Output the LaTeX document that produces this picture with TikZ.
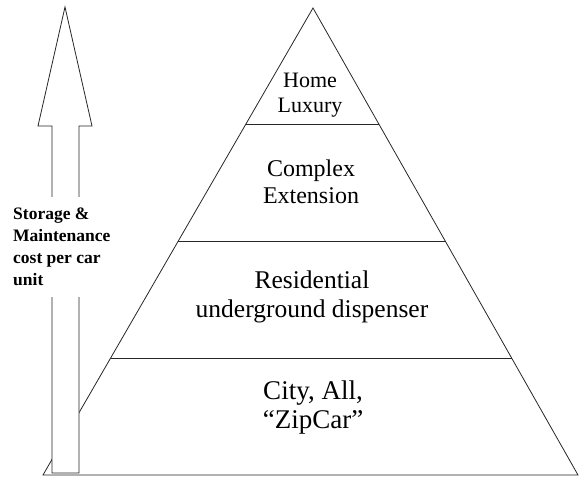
\documentclass[tikz,border=0pt]{standalone}
\usepackage{fontspec}
\setmainfont{Liberation Serif}
\usetikzlibrary{calc}
\tikzset{
	pyr/.style={draw=black!85,line width=0.8pt},
	level/.style={align=center,inner sep=0pt}
}

\begin{document}
\begin{tikzpicture}[x=1pt,y=-1pt]
        \useasboundingbox (0,0) rectangle (579,478);
        \coordinate (apex) at (313, 8);
        \coordinate (base_L) at (43, 475);
        \coordinate (base_R) at (578, 475);
        \coordinate (lvl_1_L) at ($(apex)!0.25!(base_L)$);
        \coordinate (lvl_1_R) at ($(apex)!0.25!(base_R)$);
        \coordinate (lvl_2_L) at ($(apex)!0.5!(base_L)$);
        \coordinate (lvl_2_R) at ($(apex)!0.5!(base_R)$);
        \coordinate (lvl_3_L) at ($(apex)!0.75!(base_L)$);
        \coordinate (lvl_3_R) at ($(apex)!0.75!(base_R)$);
        \draw[pyr] (apex) -- (base_L) -- (base_R) -- cycle;
        \draw[pyr] (lvl_1_L) -- (lvl_1_R);
        \draw[pyr] (lvl_2_L) -- (lvl_2_R);
        \draw[pyr] (lvl_3_L) -- (lvl_3_R);
        \node[level,font=\fontsize{22}{25}\selectfont] (home) at (310, 95) {Home\\Luxury};
        \node[level,font=\fontsize{24}{27}\selectfont] (complex) at (311, 182) {Complex\\Extension};
        \node[level,font=\fontsize{25.5}{28.5}\selectfont] (resid) at (312, 297) {Residential\\underground dispenser};
        \node[level,font=\fontsize{27}{29}\selectfont] (city) at (313, 408) {City, All,\\``ZipCar''};
        % cost arrow
        \coordinate (arr_tip) at (65, 7);
        \coordinate (arr_wL) at (38, 126);
        \coordinate (arr_wR) at (92, 126);
        \coordinate (arr_sL) at (52, 126);
        \coordinate (arr_sR) at (79, 126);
        \coordinate (arr_bL) at (52, 473);
        \coordinate (arr_bR) at (79, 473);
        \filldraw[pyr,fill=white] (arr_bL) -- (arr_sL) -- (arr_wL) -- (arr_tip) -- (arr_wR) -- (arr_sR) -- (arr_bR) -- cycle;
        \node[fill=white,align=left,inner xsep=2pt,inner ysep=11pt,anchor=west,font=\bfseries\fontsize{17.5}{22}\selectfont] (cost) at (11, 247) {Storage \&\\Maintenance\\cost per car\\unit};
    \end{tikzpicture}
\end{document}
